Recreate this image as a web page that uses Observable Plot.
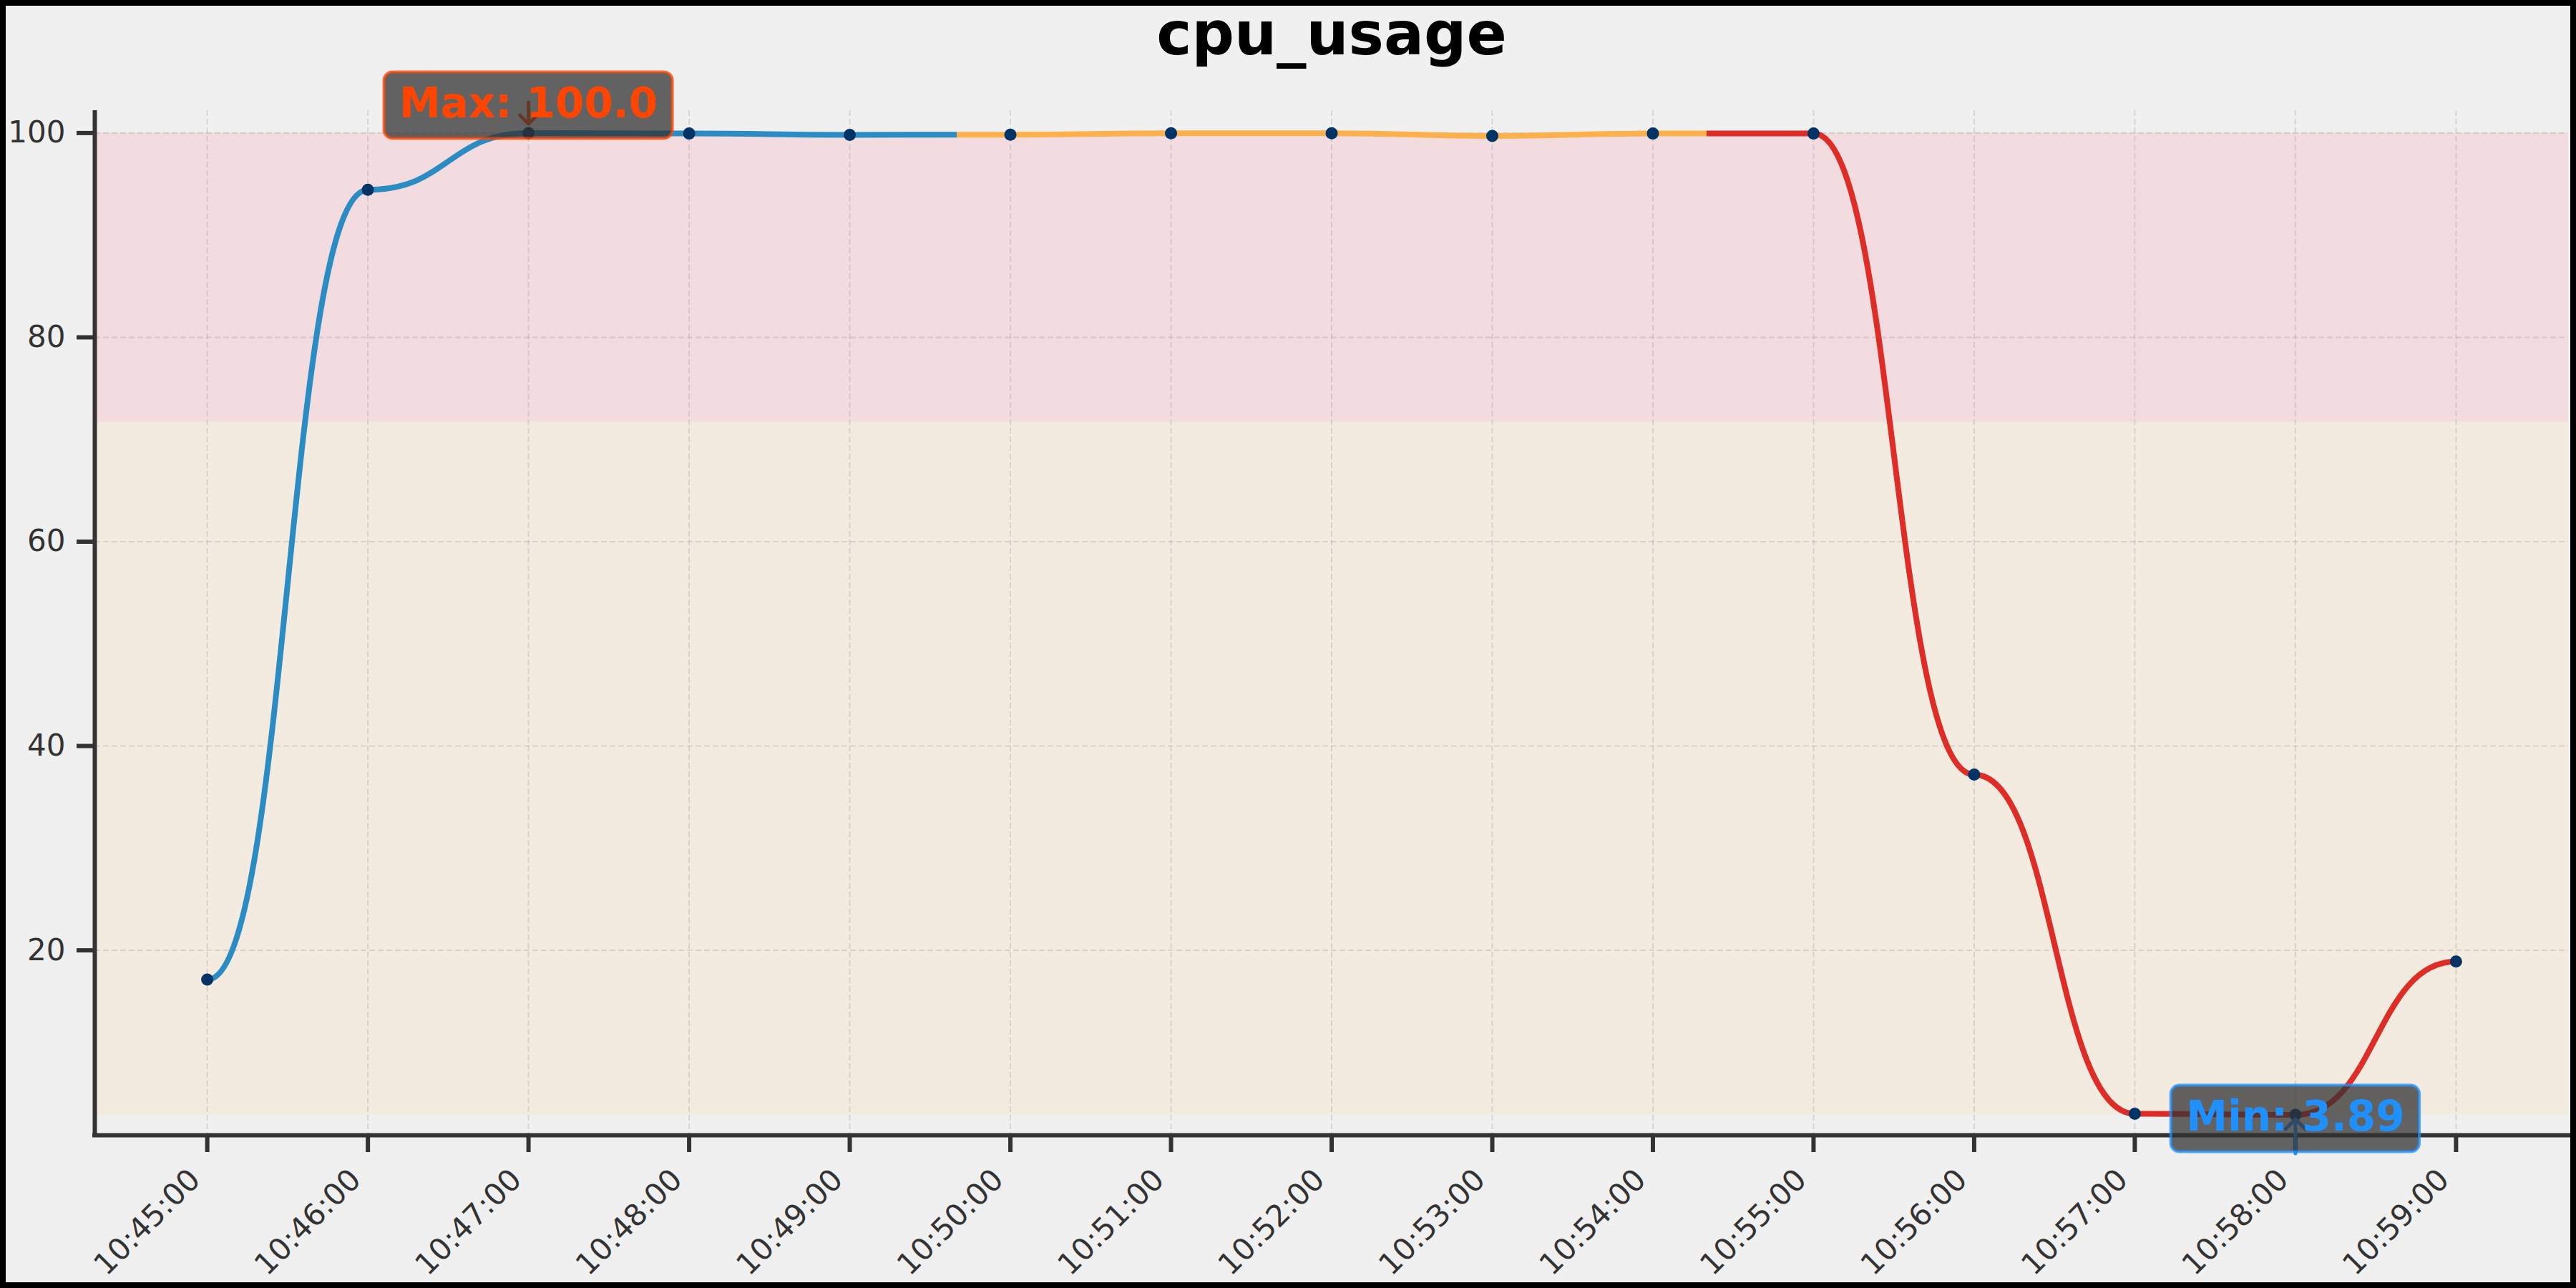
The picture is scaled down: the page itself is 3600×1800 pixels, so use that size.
<!DOCTYPE html>
<html><head><meta charset="utf-8">
<script src="https://cdn.jsdelivr.net/npm/d3@7"></script>
<script src="https://cdn.jsdelivr.net/npm/@observablehq/plot@0.6"></script>
<style>
html,body{margin:0;padding:0;background:#f0f0f0;}
#wrap{position:relative;width:3600px;height:1800px;overflow:hidden;}
#border{position:absolute;left:0;top:0;width:3600px;height:1800px;box-sizing:border-box;border:8px solid #000;pointer-events:none;}
</style></head><body>
<div id="wrap"><div id="chart"></div><div id="border"></div></div>
<script>
// ---- data ----
const title = "cpu_usage";
const times = ["10:45:00","10:46:00","10:47:00","10:48:00","10:49:00","10:50:00","10:51:00","10:52:00",
               "10:53:00","10:54:00","10:55:00","10:56:00","10:57:00","10:58:00","10:59:00"];
const cpu = [17.13, 94.44, 100.0, 99.95, 99.82, 99.84, 99.98, 99.98, 99.72, 99.95, 99.95, 37.2, 4.0, 3.89, 18.9];
const yTicks = [20, 40, 60, 80, 100];
const yDomain = [1.9, 102.2];
const xDomain = ["10:44:18", "10:59:42"];
const bandLow = [3.89, 71.7];
const bandHigh = [71.7, 100.0];
const segmentBreaks = ["10:49:40", "10:54:20"];
const annotLabels = ["Max: 100.0", "Min: 3.89"];
const annotTimes = ["10:47:00", "10:58:00"];
const annotValues = [100.0, 3.89];

// ---- styles ----
const segmentColors = ["#2b8cc4", "#fdb04b", "#de2d26"];
const bandColors = ["#f3ebdf", "#f2dcdf"];
const annotColors = ["#ff4500", "#1e90ff"];
const annotDy = [-22, 22];
const ink = "#333333";
const font = "DejaVu Sans";

const parse = s => new Date(`2024-01-01T${s}`);
const rows = times.map((t, i) => ({time: parse(t), value: cpu[i]}));
const tickDates = times.map(parse);
const bands = bandLow.map((lo, i) => ({lo, hi: bandHigh[i]}));
const annots = annotLabels.map((label, i) => ({label, time: parse(annotTimes[i]), value: annotValues[i]}));

const ns = "http://www.w3.org/2000/svg";

function gradientDefs(index, scales) {
  const x = scales.x;
  const a = x(rows[0].time), b = x(rows[rows.length - 1].time);
  const edges = [a, ...segmentBreaks.map(s => x(parse(s))), b];
  const g = document.createElementNS(ns, "g");
  const defs = document.createElementNS(ns, "defs");
  const grad = document.createElementNS(ns, "linearGradient");
  grad.setAttribute("id", "segGrad");
  grad.setAttribute("gradientUnits", "userSpaceOnUse");
  grad.setAttribute("x1", a); grad.setAttribute("x2", b);
  grad.setAttribute("y1", 0); grad.setAttribute("y2", 0);
  segmentColors.forEach((c, k) => {
    for (const e of [edges[k], edges[k + 1]]) {
      const st = document.createElementNS(ns, "stop");
      st.setAttribute("offset", (e - a) / (b - a));
      st.setAttribute("stop-color", c);
      grad.appendChild(st);
    }
  });
  defs.appendChild(grad);
  g.appendChild(defs);
  return g;
}

function annotationBoxes(index, scales) {
  const g = document.createElementNS(ns, "g");
  const ctx = document.createElement("canvas").getContext("2d");
  ctx.font = `bold 58px "${font}"`;
  annots.forEach((d, i) => {
    const cx = scales.x(d.time), cy = scales.y(d.value);
    const base = cy + annotDy[i];
    const w = ctx.measureText(d.label).width + 42;
    const r = document.createElementNS(ns, "rect");
    r.setAttribute("x", cx - w / 2);
    r.setAttribute("y", base - 63);
    r.setAttribute("width", w);
    r.setAttribute("height", 93);
    r.setAttribute("rx", 12);
    r.setAttribute("fill", "#333");
    r.setAttribute("fill-opacity", 0.75);
    r.setAttribute("stroke", annotColors[i]);
    r.setAttribute("stroke-opacity", 0.75);
    r.setAttribute("stroke-width", 4);
    g.appendChild(r);
  });
  return g;
}

const chart = Plot.plot({
  width: 3600,
  height: 1800,
  marginLeft: 132,
  marginRight: 11,
  marginTop: 154,
  marginBottom: 214,
  style: {background: "#f0f0f0", fontFamily: font, overflow: "visible"},
  x: {type: "time", domain: xDomain.map(parse)},
  y: {domain: yDomain},
  marks: [
    Plot.rect([bands[0]], {y1: "lo", y2: "hi", fill: bandColors[0]}),
    Plot.rect([bands[1]], {y1: "lo", y2: "hi", fill: bandColors[1]}),
    Plot.gridX(tickDates, {stroke: "#999", strokeOpacity: 0.3, strokeWidth: 2, strokeDasharray: "8,4"}),
    Plot.gridY(yTicks, {stroke: "#999", strokeOpacity: 0.3, strokeWidth: 2, strokeDasharray: "8,4"}),
    gradientDefs,
    Plot.line(rows, {x: "time", y: "value", curve: "bump-x", stroke: "url(#segGrad)", strokeWidth: 8, strokeLinecap: "butt"}),
    Plot.dot(rows, {x: "time", y: "value", r: 8.5, fill: "#003366"}),
    Plot.ruleY([yDomain[0]], {stroke: ink, strokeWidth: 6, strokeLinecap: "square"}),
    Plot.ruleX([parse(xDomain[0])], {stroke: ink, strokeWidth: 6}),
    Plot.axisY(yTicks, {tickSize: 25, tickPadding: 16, fontSize: 42, color: ink, strokeWidth: 6, label: null}),
    Plot.axisX(tickDates, {tickFormat: () => "", tickSize: 24, color: ink, strokeWidth: 6, label: null}),
    Plot.axisX(tickDates, {tickFormat: d3.timeFormat("%H:%M:%S"), tickRotate: -45, textAnchor: "end", lineAnchor: "middle",
      tickSize: 0, tickPadding: 55, dx: -17, fontSize: 42, color: ink, label: null}),
    Plot.vector([annots[0]], {x: "time", y: "value", rotate: 180, length: 30, anchor: "end", dy: -13, r: 7,
      stroke: annotColors[0], strokeWidth: 5}),
    Plot.vector([annots[1]], {x: "time", y: "value", rotate: 0, length: 48, anchor: "end", dy: 6, r: 5,
      stroke: annotColors[1], strokeWidth: 5}),
    annotationBoxes,
    Plot.text([annots[0]], {x: "time", y: "value", text: "label", fill: annotColors[0], fontSize: 58, fontWeight: "bold",
      lineAnchor: "bottom", dy: annotDy[0]}),
    Plot.text([annots[1]], {x: "time", y: "value", text: "label", fill: annotColors[1], fontSize: 58, fontWeight: "bold",
      lineAnchor: "bottom", dy: annotDy[1]}),
    Plot.text([title], {text: d => d, frameAnchor: "top", lineAnchor: "bottom", dy: -79, fontSize: 83, fontWeight: "bold", fill: "#000"})
  ]
});
document.getElementById("chart").appendChild(chart);
</script>
</body></html>
